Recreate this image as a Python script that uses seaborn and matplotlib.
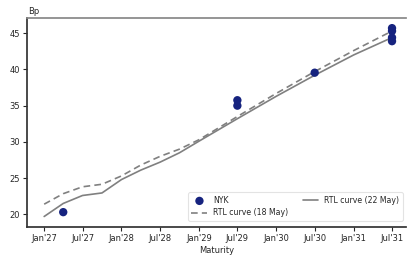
import matplotlib
matplotlib.use("Agg")
import matplotlib.pyplot as plt
import matplotlib.dates as mdates
import seaborn as sns
import pandas as pd

# ---- data ----
curve_dates = ["2027-01-01", "2027-04-01", "2027-07-01", "2027-10-01", "2028-01-01",
               "2028-04-01", "2028-07-01", "2028-10-01", "2029-01-01", "2029-07-01",
               "2030-01-01", "2030-07-01", "2031-01-01", "2031-07-01"]
rtl_18may = [21.4, 22.85, 23.8, 24.15, 25.3, 26.8, 28.0, 29.0, 30.3, 33.5, 36.7, 39.7, 42.6, 45.3]
rtl_22may = [19.7, 21.5, 22.6, 22.95, 24.8, 26.1, 27.2, 28.5, 30.1, 33.2, 36.3, 39.2, 42.0, 44.4]

nyk_dates = ["2027-04-01", "2029-07-01", "2029-07-01", "2030-07-01",
             "2031-07-01", "2031-07-01", "2031-07-01", "2031-07-01"]
nyk_values = [20.3, 35.0, 35.75, 39.55, 45.7, 45.3, 44.4, 43.9]

tick_dates = ["2027-01-01", "2027-07-01", "2028-01-01", "2028-07-01", "2029-01-01",
              "2029-07-01", "2030-01-01", "2030-07-01", "2031-01-01", "2031-07-01"]

curves = pd.DataFrame({"date": pd.to_datetime(curve_dates), "c18": rtl_18may, "c22": rtl_22may})
nyk = pd.DataFrame({"date": pd.to_datetime(nyk_dates), "value": nyk_values})

sns.set_theme(style="ticks")
plt.rcParams["font.family"] = ["DejaVu Sans"]

fig = plt.figure(figsize=(4.07, 2.58), dpi=100)
ax = fig.add_axes([27/407, 1-227/258, (406-27)/407, (227-18)/258])

sns.scatterplot(data=nyk, x="date", y="value", ax=ax, color="#16237f", s=36,
                edgecolor="none", label="NYK", zorder=3)
sns.lineplot(data=curves, x="date", y="c18", ax=ax, color="#808080", lw=1.2,
             linestyle=(0, (4, 2.5)), label="RTL curve (18 May)")
sns.lineplot(data=curves, x="date", y="c22", ax=ax, color="#808080", lw=1.2,
             label="RTL curve (22 May)")

ax.set_xlim(pd.Timestamp("2026-10-12"), pd.Timestamp("2031-09-05"))
ax.set_ylim(18.25, 47.1)
ax.set_yticks([20, 25, 30, 35, 40, 45])
ax.set_xticks(pd.to_datetime(tick_dates))
ax.xaxis.set_major_formatter(mdates.DateFormatter("%b'%y"))
ax.tick_params(labelsize=6, length=3, width=0.8, pad=2)

ax.set_xlabel("Maturity", fontsize=6, labelpad=2)
ax.set_ylabel("")
ax.text(0.003, 1.033, "Bp", transform=ax.transAxes, fontsize=6, va="center", ha="left")

ax.spines["right"].set_visible(False)
ax.spines["top"].set_color("#888888")
for s in ["left", "bottom"]:
    ax.spines[s].set_color("#333333")

leg = ax.legend(loc="lower right", bbox_to_anchor=(0.992, 0.029), borderaxespad=0,
                ncol=2, fontsize=5.6, frameon=True, columnspacing=1.8,
                handlelength=2.05, handletextpad=0.77, labelspacing=0.45,
                borderpad=0.45)
leg.get_frame().set_edgecolor("#dddddd")
leg.get_frame().set_linewidth(0.8)

fig.savefig("out.png", dpi=100)
